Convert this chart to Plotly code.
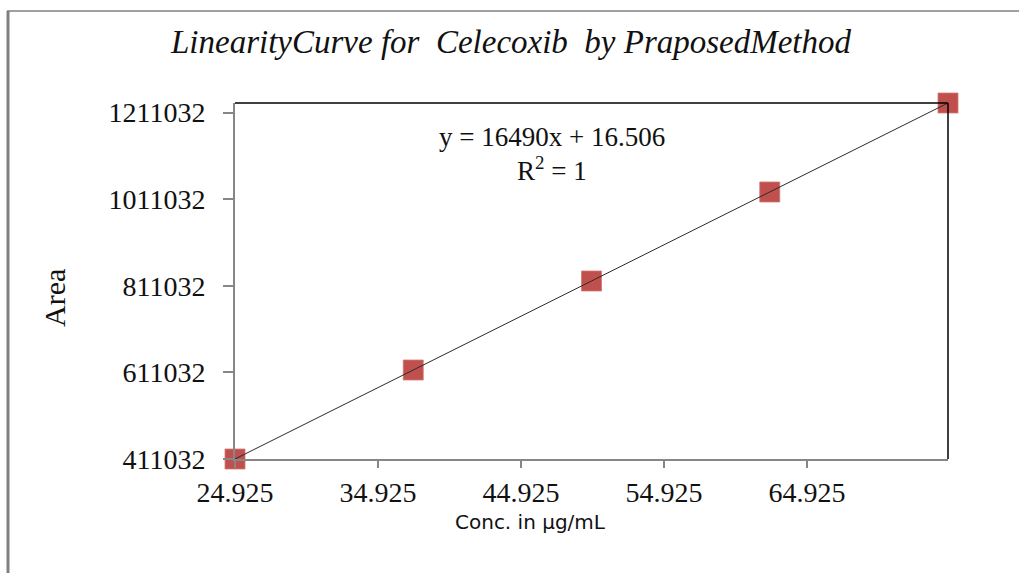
import numpy as np
import plotly.graph_objects as go

# Linearity levels (µg/mL) and measured peak areas
conc = [24.925, 37.3875, 49.85, 62.3125, 74.775]
area = [411032, 616545, 822070, 1027585, 1233060]

# Least-squares line as reported
slope = 16490
intercept = 16.506
r_squared = 1

x_ticks = [24.925, 34.925, 44.925, 54.925, 64.925]
x_tick_text = ["24.925", "34.925", "44.925", "54.925", "64.925"]
y_ticks = [411032, 611032, 811032, 1011032, 1211032]
y_tick_text = ["411032", "611032", "811032", "1011032", "1211032"]

W, H = 1019, 573
ML, MR, MT, MB = 235, 71, 103, 114
PW, PH = W - ML - MR, H - MT - MB


def px_to_paper_x(px):
    return (px - ML) / PW


def px_to_paper_y(py):
    return (H - MB - py) / PH


fit_x = [min(conc), max(conc)]
fit_y = [slope * v + intercept for v in fit_x]

fig = go.Figure()
fig.add_trace(go.Scatter(
    x=conc, y=area, mode="markers",
    marker=dict(symbol="square", size=20, color="#C0504D",
                line=dict(color="rgba(210,120,118,0.8)", width=1)),
    cliponaxis=False, showlegend=False,
))
fig.add_trace(go.Scatter(
    x=fit_x, y=fit_y, mode="lines",
    line=dict(color="#2b2b2b", width=1),
    cliponaxis=False, showlegend=False,
))

serif = "Liberation Serif"

fig.update_xaxes(
    range=[min(conc), max(conc)],
    tickmode="array", tickvals=x_ticks, ticktext=x_tick_text,
    ticks="outside", ticklen=7, tickcolor="#868686", tickwidth=1.5,
    showline=True, linecolor="#868686", linewidth=2,
    showgrid=False, zeroline=False,
    tickfont=dict(family=serif, size=28, color="#111"),
)
fig.update_yaxes(
    range=[min(area), max(area)],
    tickmode="array", tickvals=y_ticks, ticktext=y_tick_text,
    ticks="outside", ticklen=10, tickcolor="#868686", tickwidth=1.5,
    ticklabelstandoff=12,
    showline=True, linecolor="#868686", linewidth=2,
    showgrid=False, zeroline=False,
    tickfont=dict(family=serif, size=28, color="#111"),
)

shapes = [
    # black top and right edges of the plot area
    dict(type="line", xref="paper", yref="paper", x0=0, x1=1, y0=1, y1=1,
         line=dict(color="black", width=1.5)),
    dict(type="line", xref="paper", yref="paper", x0=1, x1=1, y0=0, y1=1,
         line=dict(color="black", width=1.5)),
    # outer frame: left and top edges
    dict(type="line", xref="paper", yref="paper",
         x0=px_to_paper_x(8), x1=px_to_paper_x(8),
         y0=px_to_paper_y(11), y1=px_to_paper_y(H + 2),
         line=dict(color="#808080", width=3)),
    dict(type="line", xref="paper", yref="paper",
         x0=px_to_paper_x(7), x1=px_to_paper_x(W + 2),
         y0=px_to_paper_y(11), y1=px_to_paper_y(11),
         line=dict(color="#808080", width=1.5)),
]

annotations = [
    dict(text="<i>LinearityCurve for\u00a0\u00a0Celecoxib\u00a0\u00a0by PraposedMethod</i>",
         xref="paper", yref="paper", x=px_to_paper_x(511), y=px_to_paper_y(42),
         showarrow=False, xanchor="center", yanchor="middle",
         font=dict(family=serif, size=33, color="#111")),
    dict(text=f"y = {slope}x + {intercept}",
         xref="paper", yref="paper", x=px_to_paper_x(552), y=px_to_paper_y(137),
         showarrow=False, xanchor="center", yanchor="middle",
         font=dict(family=serif, size=27, color="#111")),
    dict(text=f"R<sup>2</sup> = {r_squared}",
         xref="paper", yref="paper", x=px_to_paper_x(552), y=px_to_paper_y(169),
         showarrow=False, xanchor="center", yanchor="middle",
         font=dict(family=serif, size=27, color="#111")),
    dict(text="Area", textangle=-90,
         xref="paper", yref="paper", x=px_to_paper_x(54), y=px_to_paper_y(298),
         showarrow=False, xanchor="center", yanchor="middle",
         font=dict(family=serif, size=30, color="#111")),
    dict(text="Conc. in µg/mL",
         xref="paper", yref="paper", x=px_to_paper_x(530), y=px_to_paper_y(522),
         showarrow=False, xanchor="center", yanchor="middle",
         font=dict(family="DejaVu Sans", size=20, color="#111")),
]

fig.update_layout(
    width=W, height=H,
    margin=dict(l=ML, r=MR, t=MT, b=MB),
    paper_bgcolor="white", plot_bgcolor="white",
    shapes=shapes, annotations=annotations,
    showlegend=False,
)

fig.write_html("out.html")
